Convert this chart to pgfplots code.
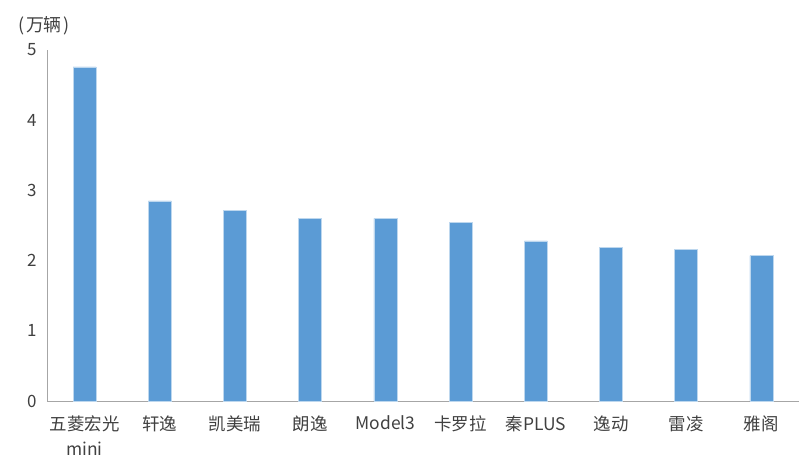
\documentclass[border=0pt]{standalone}
\usepackage{pgfplots}
\pgfplotsset{compat=1.18}
\usepackage{fontspec}
\setmainfont{Noto Sans CJK SC}
\definecolor{barblue}{HTML}{5B9BD5}
\definecolor{barrim}{HTML}{BDD7EE}
\definecolor{axisgray}{HTML}{A6A6A6}
\definecolor{txt}{HTML}{404040}

% sales volume, 10k units
\pgfplotstableread{
idx val
0 4.76
1 2.85
2 2.71
3 2.60
4 2.60
5 2.54
6 2.28
7 2.19
8 2.16
9 2.07
}\salesdata

\begin{document}
\begin{tikzpicture}
\useasboundingbox (-47bp,-60bp) rectangle (761bp,401bp);
\begin{axis}[
  at={(0,0)}, anchor=south west,
  scale only axis, width=752bp, height=351bp,
  xmin=-0.5, xmax=9.5, ymin=0, ymax=5,
  axis lines*=left,
  axis line style={axisgray, line width=1bp},
  major tick length=0pt,
  ytick={0,1,2,3,4,5},
  xtick={0,...,9},
  xticklabels={{五菱宏光\\mini},轩逸,凯美瑞,朗逸,Model3,卡罗拉,秦PLUS,逸动,雷凌,雅阁},
  xticklabel style={align=center, text=txt, font=\fontsize{17.5}{25}\selectfont, yshift=-11bp},
  yticklabel style={text=txt, font=\fontsize{17}{20}\selectfont, xshift=-7bp},
  /pgf/number format/assume math mode=true,
  ybar, bar width=23bp,
  clip=false,
]
\addplot[fill=barblue, draw=barrim, line width=0.6bp] table[x=idx, y=val] {\salesdata};
\end{axis}
\node[text=txt, font=\fontsize{18}{21}\selectfont] at (-3bp,375bp) {(\kern2bp万辆\kern2bp)};
\end{tikzpicture}
\end{document}
